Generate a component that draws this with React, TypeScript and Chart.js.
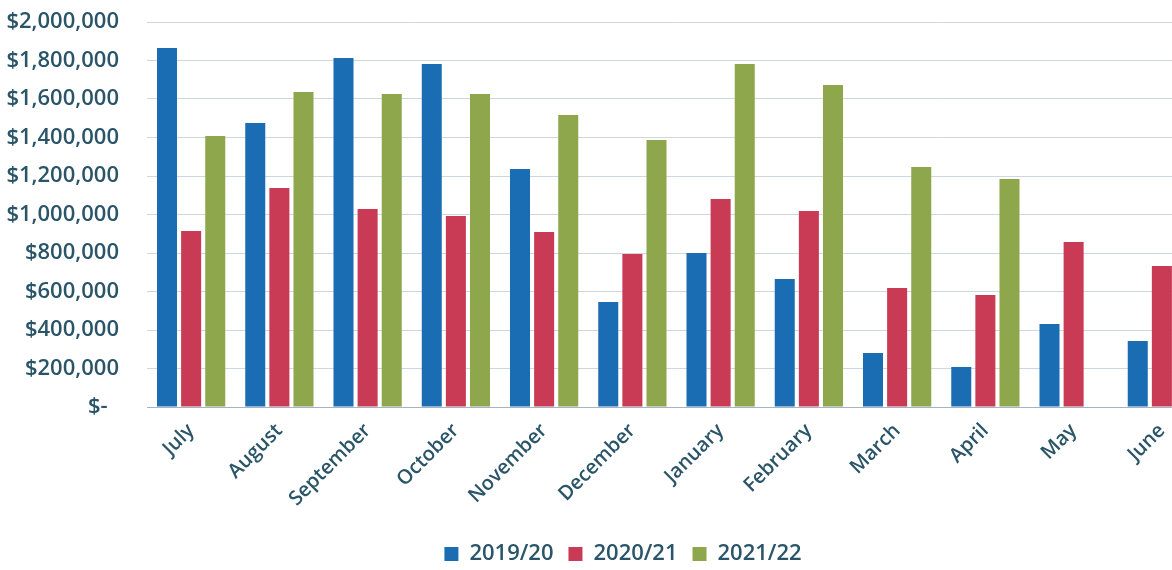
import React, { useEffect, useRef } from "react";
import { Chart, registerables } from "chart.js";

Chart.register(...registerables);

const months = ["July", "August", "September", "October", "November", "December", "January", "February", "March", "April", "May", "June"];
const series2019 = [1865000, 1475000, 1813000, 1782000, 1236000, 545000, 800000, 665000, 280000, 208000, 431000, 343000];
const series2020 = [914000, 1138000, 1029000, 992000, 909000, 795000, 1081000, 1018000, 618000, 582000, 857000, 732000];
const series2021 = [1408000, 1636000, 1626000, 1626000, 1517000, 1387000, 1782000, 1673000, 1247000, 1184000, null, null];
const seriesNames = ["2019/20", "2020/21", "2021/22"];

const TEXT = "#2a5468";
const FONT = "'Open Sans'";
const WEIGHT = "600";

const legendShift = {
  id: "legendShift",
  afterLayout(chart: any) {
    const l = chart.legend;
    if (!l) return;
    l.left += 20;
    l.right += 20;
    l.top += 5;
    l.bottom += 5;
  },
};

export default function App() {
  const ref = useRef<HTMLCanvasElement | null>(null);
  useEffect(() => {
    if (!ref.current) return;
    const chart = new Chart(ref.current, {
      type: "bar",
      data: {
        labels: months,
        datasets: [
          { label: seriesNames[0], data: series2019, backgroundColor: "#1b6db3", categoryPercentage: 0.82, barPercentage: 0.83 },
          { label: seriesNames[1], data: series2020, backgroundColor: "#c93a55", categoryPercentage: 0.82, barPercentage: 0.83 },
          { label: seriesNames[2], data: series2021 as any, backgroundColor: "#8ea64c", categoryPercentage: 0.82, barPercentage: 0.83 },
        ],
      },
      plugins: [legendShift],
      options: {
        animation: false,
        responsive: false,
        maintainAspectRatio: false,
        layout: { padding: { left: 0, right: 6, top: 22, bottom: 0 } },
        plugins: {
          tooltip: { enabled: false },
          legend: {
            position: "bottom",
            labels: {
              color: TEXT,
              font: { family: FONT, size: 22, weight: WEIGHT },
              boxWidth: 14,
              boxHeight: 14,
              padding: 15,
            },
          },
        },
        scales: {
          x: {
            grid: { display: false },
            border: { display: true, color: "rgba(120,145,170,0.5)" },
            afterFit: (s: any) => { s.paddingLeft = 0; s.paddingRight = 0; s.height = 116; },
            ticks: {
              color: TEXT,
              font: { family: FONT, size: 20, weight: WEIGHT },
              minRotation: 45,
              maxRotation: 45,
              autoSkip: false,
              padding: 4,
            },
          },
          y: {
            min: 0,
            max: 2000000,
            border: { display: false },
            afterFit: (s: any) => { s.paddingTop = 0; s.paddingBottom = 0; s.width = 147; },
            grid: { color: "rgba(110,140,170,0.35)", drawTicks: false },
            ticks: {
              stepSize: 200000,
              color: TEXT,
              font: { family: FONT, size: 22, weight: WEIGHT },
              padding: 28,
              callback: (v: any) => (Number(v) === 0 ? "$-  " : "$" + Number(v).toLocaleString("en-US")),
            },
          },
        },
      },
    });
    return () => chart.destroy();
  }, []);
  return (
    <div style={{ position: "fixed", left: 0, top: 0, width: 1172, height: 570, overflow: "hidden", background: "#fff" }}>
      <canvas ref={ref} width={1212} height={570} style={{ display: "block" }} />
    </div>
  );
}
